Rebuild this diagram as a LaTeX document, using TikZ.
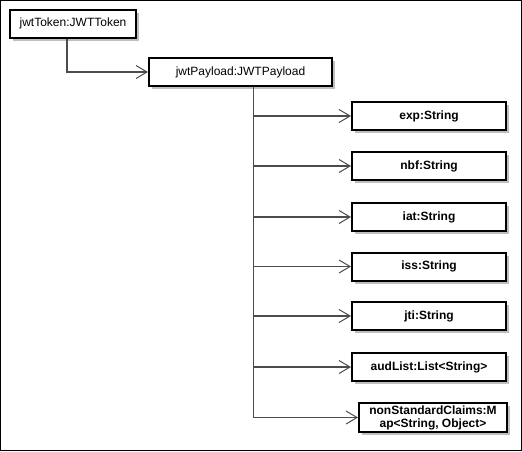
\documentclass[tikz,border=0pt]{standalone}
\usepackage{fontspec}
\setmainfont{Liberation Sans}
\usetikzlibrary{arrows.meta,shadows}
\begin{document}
\begin{tikzpicture}[x=1pt,y=1pt,>={Straight Barb[length=11pt,width=13pt,line width=1pt]},
  obj/.style={draw,line width=2pt,fill=white,inner sep=0pt,minimum height=28pt,
    font=\fontsize{12}{13}\selectfont,
    drop shadow={shadow xshift=3pt,shadow yshift=-3pt,fill=black!25,opacity=1}},
  field/.style={obj,minimum width=154pt,font=\bfseries\fontsize{12}{13}\selectfont},
  link/.style={line width=1.1pt,draw=black!70,->}]
  % Frame and page size
  \useasboundingbox (0,0) rectangle (522,-451);
  \draw[line width=0.9pt] (0.5,-0.5) rectangle (521.5,-450.5);
  % Objects
  \node[obj,minimum width=126pt] (token) at (73,-23.5) {jwtToken:JWTToken};
  \node[obj,minimum width=183pt] (payload) at (240.5,-72) {jwtPayload:JWTPayload};
  % Fields of the payload
  \node[field] (exp) at (429,-116) {exp:String};
  \node[field] (nbf) at (429,-166) {nbf:String};
  \node[field] (iat) at (429,-217) {iat:String};
  \node[field] (iss) at (429,-266.5) {iss:String};
  \node[field] (jti) at (429,-316) {jti:String};
  \node[field] (aud) at (429,-367) {audList:List<String>};
  \node[field,minimum width=148pt,minimum height=29pt,align=center] (claims) at (433,-417.5)
    {nonStandardClaims:M\\ap<String, Object>};
  % Links
  \draw[link] ([xshift=-6pt]token.south) |- (payload.west);
  \coordinate (trunk) at ([xshift=13pt]payload.south);
  \draw[link] (trunk) |- (exp.west);
  \draw[link] (trunk) |- (nbf.west);
  \draw[link] (trunk) |- (iat.west);
  \draw[link] (trunk) |- (iss.west);
  \draw[link] (trunk) |- (jti.west);
  \draw[link] (trunk) |- (aud.west);
  \draw[link] (trunk) |- (claims.west);
\end{tikzpicture}
\end{document}
